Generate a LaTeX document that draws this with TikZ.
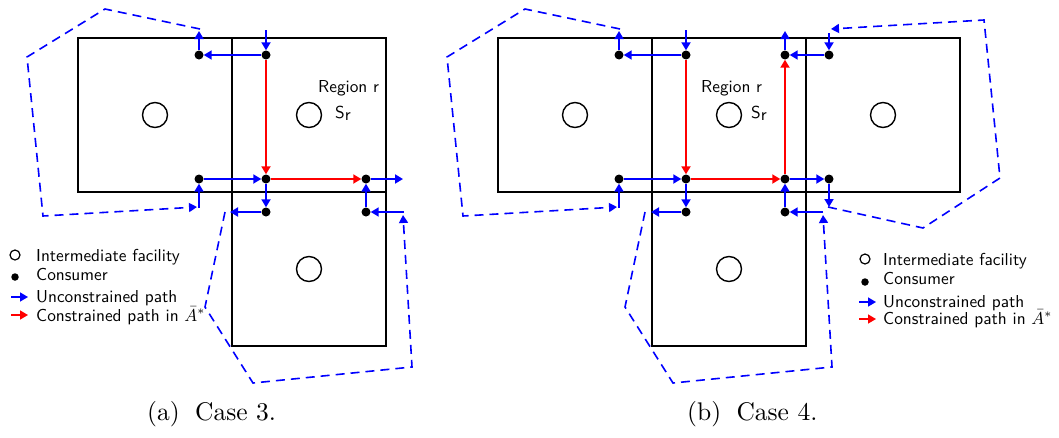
\documentclass[tikz,border=0pt]{standalone}
\usepackage{fontspec}
\usepackage{graphicx}
\usetikzlibrary{arrows.meta}
\newcommand{\lgtxt}[1]{\scalebox{1.73}{\sffamily #1}}
\newcommand{\cptxt}[1]{\scalebox{2.55}{#1}}
\tikzset{
  box/.style={draw=black, line width=1.8pt},
  fac/.style={circle, draw=black, line width=1.4pt, minimum size=25pt, inner sep=0pt},
  cons/.style={circle, fill=black, minimum size=9pt, inner sep=0pt},
  tipx/.style={-{Triangle[length=8pt,width=9pt]}},
  ua/.style={draw=blue, line width=1.8pt, tipx},
  ca/.style={draw=red, line width=1.8pt, tipx},
  dpath/.style={draw=blue, line width=1.6pt, dash pattern=on 9pt off 6pt, tipx},
  lbl/.style={inner sep=0pt, anchor=base west},
  captxt/.style={inner sep=0pt, anchor=base west}
}
\begin{document}
\begin{tikzpicture}[x=1pt,y=-1pt]
\useasboundingbox (0,0) rectangle (1059,437);

% ================= (a) =================
\draw[box] (78,38) rectangle (232,192);
\draw[box] (232,38) rectangle (386,192);
\draw[box] (232,192) rectangle (386,346);
\node[fac] (afL) at (155,115) {};
\node[fac] (afR) at (309,115) {};
\node[fac] (afB) at (309,269) {};
\node[lbl] (areg) at (318,92) {\lgtxt{Region r}};
\node[lbl] (asr) at (335,118) {\lgtxt{S$_{\textsf{r}}$}};

\node[cons] (a1) at (199,55) {};
\node[cons] (a2) at (266,55) {};
\node[cons] (a3) at (199,179) {};
\node[cons] (a4) at (266,179) {};
\node[cons] (a5) at (366,179) {};
\node[cons] (a6) at (266,212) {};
\node[cons] (a7) at (366,212) {};

\coordinate (a2in) at (266,30);
\coordinate (a1up) at (199,31);
\coordinate (a3in) at (199,208);
\coordinate (a5out) at (403,179);
\coordinate (a6out) at (230,212);
\coordinate (a7in) at (404,212);

\coordinate (ad1) at (200,29);
\coordinate (ad2) at (105,9);
\coordinate (ad3) at (27,57);
\coordinate (ad4) at (43,216);
\coordinate (ad5) at (197,207);
\coordinate (ae1) at (225,212);
\coordinate (ae2) at (205,307);
\coordinate (ae3) at (253,383);
\coordinate (ae4) at (412,367);
\coordinate (ae5) at (403,215);

\draw[ua] (a2in) -- (a2);
\draw[ua] (a2) -- (a1);
\draw[ua] (a1) -- (a1up);
\draw[dpath] (ad1) -- (ad2) -- (ad3) -- (ad4) -- (ad5);
\draw[ua] (a3in) -- (a3);
\draw[ua] (a3) -- (a4);
\draw[ca] (a2) -- (a4);
\draw[ca] (a4) -- (a5);
\draw[ua] (a5) -- (a5out);
\draw[ua] (a4) -- (a6);
\draw[ua] (a6) -- (a6out);
\draw[dpath] (ae1) -- (ae2) -- (ae3) -- (ae4) -- (ae5);
\draw[ua] (a7in) -- (a7);
\draw[ua] (a7) -- (a5);

% legend (a)
\node[fac, minimum size=10pt, line width=1.2pt] (alc) at (15,255) {};
\node[lbl] (alct) at (36,261) {\lgtxt{Intermediate facility}};
\node[cons, minimum size=7.5pt] (ald) at (15,277) {};
\node[lbl] (aldt) at (36,280) {\lgtxt{Consumer}};
\coordinate (alu1) at (11,297);
\coordinate (alu2) at (28,297);
\draw[ua, line width=1.5pt] (alu1) -- (alu2);
\node[lbl] (alut) at (36,302) {\lgtxt{Unconstrained path}};
\coordinate (alr1) at (11,315);
\coordinate (alr2) at (28,315);
\draw[ca, line width=1.5pt] (alr1) -- (alr2);
\node[lbl] (alrt) at (36,321) {\lgtxt{Constrained path in $\bar{A}^{*}$}};

\node[captxt] (acap) at (147,420) {\cptxt{(a)\hspace{0.6em}Case 3.}};

% ================= (b) =================
\begin{scope}[xshift=420pt]
\draw[box] (78,38) rectangle (232,192);
\draw[box] (232,38) rectangle (386,192);
\draw[box] (386,38) rectangle (540,192);
\draw[box] (232,192) rectangle (386,346);
\node[fac] (bfL) at (155,115) {};
\node[fac] (bfR) at (309,115) {};
\node[fac] (bfE) at (463,115) {};
\node[fac] (bfB) at (309,269) {};
\node[lbl] (breg) at (281,92) {\lgtxt{Region r}};
\node[lbl] (bsr) at (331,118) {\lgtxt{S$_{\textsf{r}}$}};

\node[cons] (b1) at (199,55) {};
\node[cons] (b2) at (266,55) {};
\node[cons] (b3) at (199,179) {};
\node[cons] (b4) at (266,179) {};
\node[cons] (b5) at (365,179) {};
\node[cons] (b6) at (365,55) {};
\node[cons] (b7) at (409,55) {};
\node[cons] (b8) at (409,179) {};
\node[cons] (b9) at (266,212) {};
\node[cons] (b10) at (365,212) {};

\coordinate (b2in) at (266,30);
\coordinate (b1up) at (199,31);
\coordinate (b3in) at (199,208);
\coordinate (b6up) at (365,31);
\coordinate (b7in) at (409,33);
\coordinate (b8out) at (409,207);
\coordinate (b9out) at (231,212);
\coordinate (b10in) at (403,212);

\coordinate (bd1) at (200,29);
\coordinate (bd2) at (105,9);
\coordinate (bd3) at (27,57);
\coordinate (bd4) at (43,216);
\coordinate (bd5) at (197,207);
\coordinate (be1) at (225,212);
\coordinate (be2) at (205,307);
\coordinate (be3) at (253,383);
\coordinate (be4) at (412,367);
\coordinate (be5) at (403,215);
\coordinate (bf1) at (408,207);
\coordinate (bf2) at (503,228);
\coordinate (bf3) at (580,178);
\coordinate (bf4) at (564,20);
\coordinate (bf5) at (411,29);

\draw[ua] (b2in) -- (b2);
\draw[ua] (b2) -- (b1);
\draw[ua] (b1) -- (b1up);
\draw[dpath] (bd1) -- (bd2) -- (bd3) -- (bd4) -- (bd5);
\draw[ua] (b3in) -- (b3);
\draw[ua] (b3) -- (b4);
\draw[ca] (b2) -- (b4);
\draw[ca] (b4) -- (b5);
\draw[ca] (b5) -- (b6);
\draw[ua] (b6) -- (b6up);
\draw[ua] (b7) -- (b6);
\draw[ua] (b7in) -- (b7);
\draw[dpath] (bf1) -- (bf2) -- (bf3) -- (bf4) -- (bf5);
\draw[ua] (b5) -- (b8);
\draw[ua] (b8) -- (b8out);
\draw[ua] (b4) -- (b9);
\draw[ua] (b9) -- (b9out);
\draw[dpath] (be1) -- (be2) -- (be3) -- (be4) -- (be5);
\draw[ua] (b10in) -- (b10);
\draw[ua] (b10) -- (b5);
\end{scope}

% legend (b)
\node[fac, minimum size=10pt, line width=1.2pt] (blc) at (865,259) {};
\node[lbl] (blct) at (883,265) {\lgtxt{Intermediate facility}};
\node[cons, minimum size=7.5pt] (bld) at (865,282) {};
\node[lbl] (bldt) at (883,284) {\lgtxt{Consumer}};
\coordinate (blu1) at (859,302);
\coordinate (blu2) at (876,302);
\draw[ua, line width=1.5pt] (blu1) -- (blu2);
\node[lbl] (blut) at (883,307) {\lgtxt{Unconstrained path}};
\coordinate (blr1) at (859,319);
\coordinate (blr2) at (876,319);
\draw[ca, line width=1.5pt] (blr1) -- (blr2);
\node[lbl] (blrt) at (883,324) {\lgtxt{Constrained path in $\bar{A}^{*}$}};

\node[captxt] (bcap) at (687,420) {\cptxt{(b)\hspace{0.6em}Case 4.}};
\end{tikzpicture}
\end{document}
